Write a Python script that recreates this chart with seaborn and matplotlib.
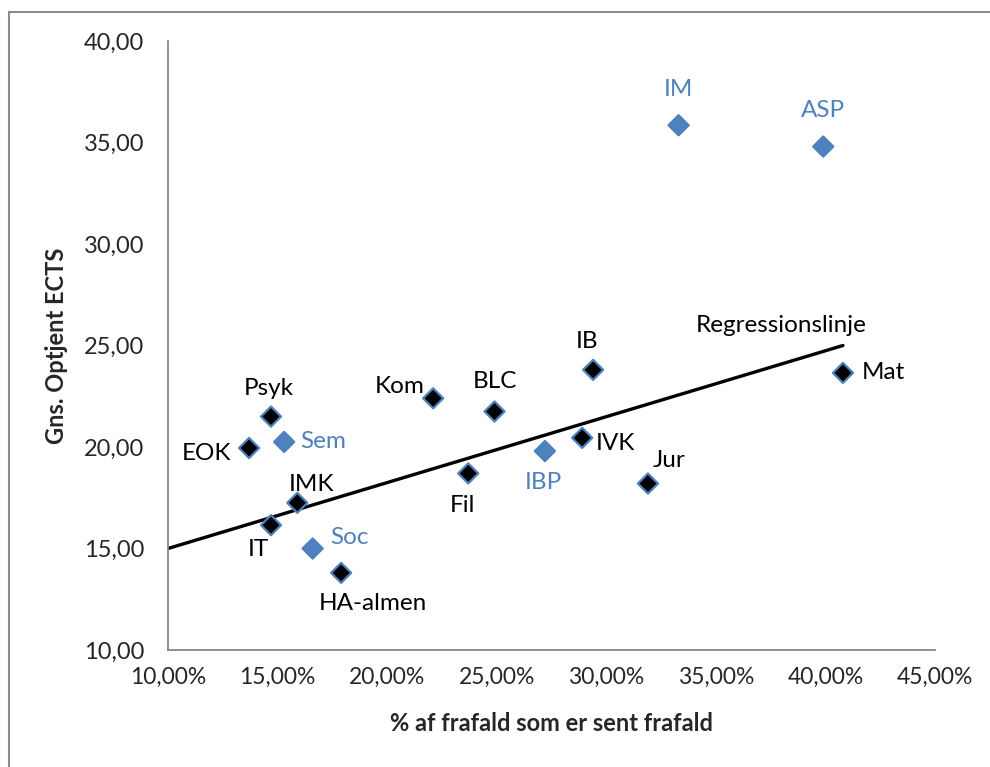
import matplotlib
matplotlib.use("Agg")
import matplotlib.pyplot as plt
import seaborn as sns
import pandas as pd
from matplotlib.ticker import FuncFormatter
from matplotlib.patches import Rectangle

# ---- data ----
names = ["IM", "ASP", "IB", "Mat", "Kom", "BLC", "Psyk", "Sem", "EOK", "IVK",
         "IBP", "Fil", "Jur", "IMK", "IT", "Soc", "HA-almen"]
late_share = [33.3, 39.9, 29.4, 40.8, 22.1, 24.9, 14.7, 15.3, 13.7, 28.9,
              27.2, 23.7, 31.9, 15.9, 14.7, 16.6, 17.9]
ects = [35.85, 34.8, 23.8, 23.65, 22.4, 21.75, 21.5, 20.25, 19.95, 20.45,
        19.8, 18.7, 18.2, 17.25, 16.15, 15.0, 13.8]
group = ["blå", "blå", "sort", "sort", "sort", "sort", "sort", "blå", "sort", "sort",
         "blå", "sort", "sort", "sort", "sort", "blå", "sort"]
reg_x = [10.0, 40.8]
reg_y = [15.0, 25.0]
x_ticks = [10, 15, 20, 25, 30, 35, 40, 45]
y_ticks = [10, 15, 20, 25, 30, 35, 40]

# label offsets in pixels (dx, dy, ha)
label_pos = {
    "IM": (0, 36, "center"), "ASP": (0, 36, "center"), "IB": (-6, 28, "center"),
    "Mat": (19, 0, "left"), "Kom": (-9, 12, "right"), "BLC": (0, 30, "center"),
    "Psyk": (-2, 28, "center"), "Sem": (16, 0, "left"), "EOK": (-18, -5, "right"),
    "IVK": (14, -6, "left"), "IBP": (-2, -31, "center"), "Fil": (-6, -32, "center"),
    "Jur": (5, 23, "left"), "IMK": (-9, 18, "left"), "IT": (-2, -24, "right"),
    "Soc": (18, 11, "left"), "HA-almen": (-22, -31, "left"),
}

BLUE = "#4F81BD"
df = pd.DataFrame({"x": late_share, "y": ects, "g": group, "n": names})

sns.set_style("white")
plt.rcParams["font.family"] = ["Lato", "DejaVu Sans"]

fig = plt.figure(figsize=(9.9, 7.67), dpi=100)
ax = fig.add_axes([168 / 990, 1 - 650 / 767, (935 - 168) / 990, (650 - 41) / 767])

ax.plot(reg_x, reg_y, color="black", linewidth=2.4, zorder=2)
sns.scatterplot(data=df, x="x", y="y", hue="g", palette={"sort": "black", "blå": BLUE},
                marker="D", s=105, edgecolor=BLUE, linewidth=1.6, legend=False,
                ax=ax, zorder=3)

LBL = 17.5
for n, xv, yv, g in zip(names, late_share, ects, group):
    dx, dy, ha = label_pos[n]
    ax.annotate(n, (xv, yv), xytext=(dx, dy), textcoords="offset pixels",
                ha=ha, va="center", fontsize=LBL,
                color=BLUE if g == "blå" else "black")

ax.annotate("Regressionslinje", (reg_x[1], reg_y[1]), xytext=(-62, 20),
            textcoords="offset pixels", ha="center", va="center", fontsize=LBL,
            color="black")

ax.set_xlim(10, 45)
ax.set_ylim(10, 40)
ax.set_xticks(x_ticks)
ax.set_yticks(y_ticks)
ax.xaxis.set_major_formatter(FuncFormatter(lambda v, p: f"{v:.2f}".replace(".", ",") + "%"))
ax.yaxis.set_major_formatter(FuncFormatter(lambda v, p: f"{v:.2f}".replace(".", ",")))
ax.tick_params(axis="both", length=4.3, width=1, color="#868686", direction="out")
ax.tick_params(axis="x", labelsize=16.5, pad=8)
ax.tick_params(axis="y", labelsize=17, pad=13)
for s in ["top", "right"]:
    ax.spines[s].set_visible(False)
for s in ["left", "bottom"]:
    ax.spines[s].set_color("#868686")
    ax.spines[s].set_linewidth(1.3)

ax.set_xlabel("% af frafald som er sent frafald", fontsize=17, fontweight="bold",
              labelpad=17)
ax.set_ylabel("Gns. Optjent ECTS", fontsize=17, fontweight="bold", labelpad=11)

fig.patches.append(Rectangle((9 / 990, -0.05), 1.1, 1 - 12 / 767 + 0.05,
                             transform=fig.transFigure, fill=False,
                             edgecolor="#8c8c8c", linewidth=1.5))

fig.savefig("out.png", dpi=100)
